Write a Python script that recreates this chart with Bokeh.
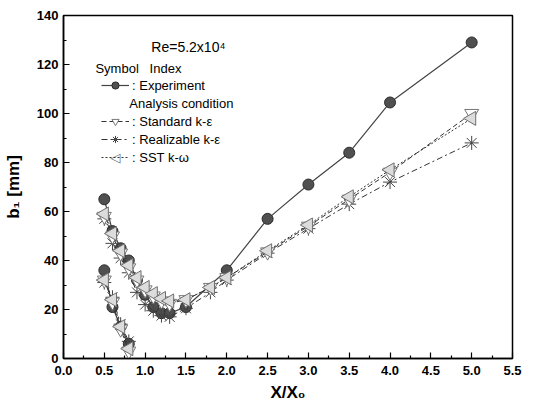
import math
from bokeh.plotting import figure
from bokeh.models import Legend, LegendItem, Label, Range1d, FixedTicker
from bokeh.embed import file_html
from bokeh.resources import INLINE

# ---- data ----
exp_up_x = [0.5, 0.6, 0.7, 0.8, 0.9, 1.0, 1.1, 1.2, 1.3, 1.5, 2.0, 2.5, 3.0, 3.5, 4.0, 5.0]
exp_up_y = [65, 52, 45, 40, 32, 26, 21, 18.5, 18.5, 21, 36, 57, 71, 84, 104.5, 129]
exp_lo_x = [0.5, 0.6, 0.7, 0.8]
exp_lo_y = [36, 21, 13, 6]

sim_up_x = [0.5, 0.6, 0.7, 0.8, 0.9, 1.0, 1.1, 1.2, 1.3, 1.5, 1.8, 2.0, 2.5, 3.0, 3.5, 4.0, 5.0]
std_up_y = [58, 50, 43, 37, 32, 28, 25.5, 23.5, 22.5, 24, 29, 33, 43.5, 54, 65, 76, 100]
real_up_y = [57, 47, 41, 35, 27, 22, 19.5, 17.5, 17, 20.5, 27, 32, 43, 53, 63, 72, 88]
sst_up_y = [59, 51, 44, 38, 33, 29, 26.5, 24.5, 23.5, 24, 29, 33, 44, 54.5, 66, 77, 98]

sim_lo_x = [0.5, 0.6, 0.7, 0.8]
std_lo_y = [32, 23, 12, 3]
real_lo_y = [31, 25, 14, 7]
sst_lo_y = [32, 24, 13, 4]

x_ticks = [0.0, 0.5, 1.0, 1.5, 2.0, 2.5, 3.0, 3.5, 4.0, 4.5, 5.0, 5.5]
y_ticks = [0, 20, 40, 60, 80, 100, 120, 140]

FONT = "Liberation Sans"

p = figure(width=539, height=407, output_backend="svg", toolbar_location=None,
           x_range=Range1d(0, 5.5), y_range=Range1d(0, 140),
           min_border_left=62, min_border_right=27, min_border_top=15, min_border_bottom=49)
p.background_fill_color = "white"
p.border_fill_color = "white"
p.xgrid.visible = False
p.ygrid.visible = False
p.outline_line_color = "black"
p.outline_line_width = 1.5
p.outline_line_alpha = 1

for ax in (p.xaxis[0], p.yaxis[0]):
    ax.axis_line_width = 1.5
    ax.major_tick_in = 6
    ax.major_tick_out = 0
    ax.minor_tick_in = 3
    ax.minor_tick_out = 0
    ax.major_tick_line_width = 1.2
    ax.minor_tick_line_width = 1.2
    ax.major_label_text_font = FONT
    ax.major_label_text_font_style = "bold"
    ax.major_label_text_font_size = "13px"
    ax.major_label_text_color = "black"
    ax.axis_label_text_font = FONT
    ax.axis_label_text_font_style = "bold"
    ax.axis_label_text_font_size = "17px"
    ax.axis_label_text_color = "black"

p.xaxis.ticker = FixedTicker(ticks=x_ticks, minor_ticks=[t + 0.25 for t in x_ticks[:-1]])
p.yaxis.ticker = FixedTicker(ticks=y_ticks, minor_ticks=[t + 10 for t in y_ticks[:-1]])
p.xaxis.major_label_overrides = {t: f"{t:.1f}" for t in x_ticks}
p.xaxis.axis_label = "X/X\u2080"
p.yaxis.axis_label = "b\u2081 [mm]"
p.xaxis.major_label_standoff = 7
p.xaxis.axis_label_standoff = 5
p.yaxis.major_label_standoff = 5
p.yaxis.axis_label_standoff = 11

LINE_C = "#333333"

# Experiment
e_l1 = p.line(exp_up_x, exp_up_y, line_color="#444444", line_width=1.2)
p.line(exp_lo_x, exp_lo_y, line_color="#444444", line_width=1.2)
e_s1 = p.scatter(exp_up_x, exp_up_y, marker="circle", size=11, fill_color="#505050",
                 line_color="#2a2a2a", line_width=1)
p.scatter(exp_lo_x, exp_lo_y, marker="circle", size=11, fill_color="#505050",
          line_color="#2a2a2a", line_width=1)

# Realizable k-e
r_l1 = p.line(sim_up_x, real_up_y, line_color=LINE_C, line_width=1, line_dash="6 3 2 3")
p.line(sim_lo_x, real_lo_y, line_color=LINE_C, line_width=1, line_dash="6 3 2 3")
r_s1 = p.scatter(sim_up_x, real_up_y, marker="asterisk", size=14, line_color="#444444", line_width=1)
p.scatter(sim_lo_x, real_lo_y, marker="asterisk", size=14, line_color="#444444", line_width=1)

# Standard k-e
s_l1 = p.line(sim_up_x, std_up_y, line_color=LINE_C, line_width=1, line_dash="5 3")
p.line(sim_lo_x, std_lo_y, line_color=LINE_C, line_width=1, line_dash="5 3")
s_s1 = p.scatter(sim_up_x, std_up_y, marker="inverted_triangle", size=14, fill_color="white",
                 line_color="#777777", line_width=1)
p.scatter(sim_lo_x, std_lo_y, marker="inverted_triangle", size=14, fill_color="white",
          line_color="#777777", line_width=1)

# SST k-w
t_l1 = p.line(sim_up_x, sst_up_y, line_color=LINE_C, line_width=1, line_dash="2 2")
p.line(sim_lo_x, sst_lo_y, line_color=LINE_C, line_width=1, line_dash="2 2")
p.scatter(sim_up_x, sst_up_y, marker="triangle", angle=math.pi / 2, size=14,
          fill_color="#dcdcdc", line_color="#6f6f6f", line_width=1)
p.scatter(sim_lo_x, sst_lo_y, marker="triangle", angle=math.pi / 2, size=14,
          fill_color="#dcdcdc", line_color="#6f6f6f", line_width=1)

def make_legend(items, loc):
    lg = Legend(items=items, location=loc, padding=0, margin=0, spacing=0,
                glyph_width=28, glyph_height=18, label_height=18, label_standoff=3,
                label_text_font=FONT, label_text_font_size="13px", label_text_color="black",
                background_fill_alpha=0, border_line_alpha=0)
    return lg

leg1 = make_legend([LegendItem(label=": Experiment", renderers=[e_l1, e_s1])], (38, 264))
leg2 = make_legend([
    LegendItem(label=": Standard k-\u03b5", renderers=[s_l1, s_s1]),
    LegendItem(label=": Realizable k-\u03b5", renderers=[r_l1, r_s1]),
    LegendItem(label=": SST k-\u03c9", renderers=[t_l1]),
], (38, 192))
p.add_layout(leg1)
p.add_layout(leg2)

def px2x(px):
    return (px - 62) / 81.8

def py2y(py):
    return (358 - py) / 2.45

# left-pointing triangle sample for the SST legend entry
p.add_layout(Label(x=px2x(114), y=py2y(157), text="\u25c1", text_font="DejaVu Sans",
                   text_font_size="13px", text_align="center", text_baseline="middle",
                   text_color="#6f6f6f", background_fill_color="white"))

p.add_layout(Label(x=px2x(150), y=py2y(46), text="Re=5.2x10\u2074", text_font=FONT,
                   text_font_size="14px", text_baseline="middle", text_color="black"))
p.add_layout(Label(x=px2x(94), y=py2y(68), text="Symbol\u00a0\u00a0\u00a0Index", text_font=FONT,
                   text_font_size="13px", text_baseline="middle", text_color="black"))
p.add_layout(Label(x=px2x(128), y=py2y(103), text="Analysis condition", text_font=FONT,
                   text_font_size="13px", text_baseline="middle", text_color="black"))

open("out.html", "w").write(file_html(p, INLINE))
